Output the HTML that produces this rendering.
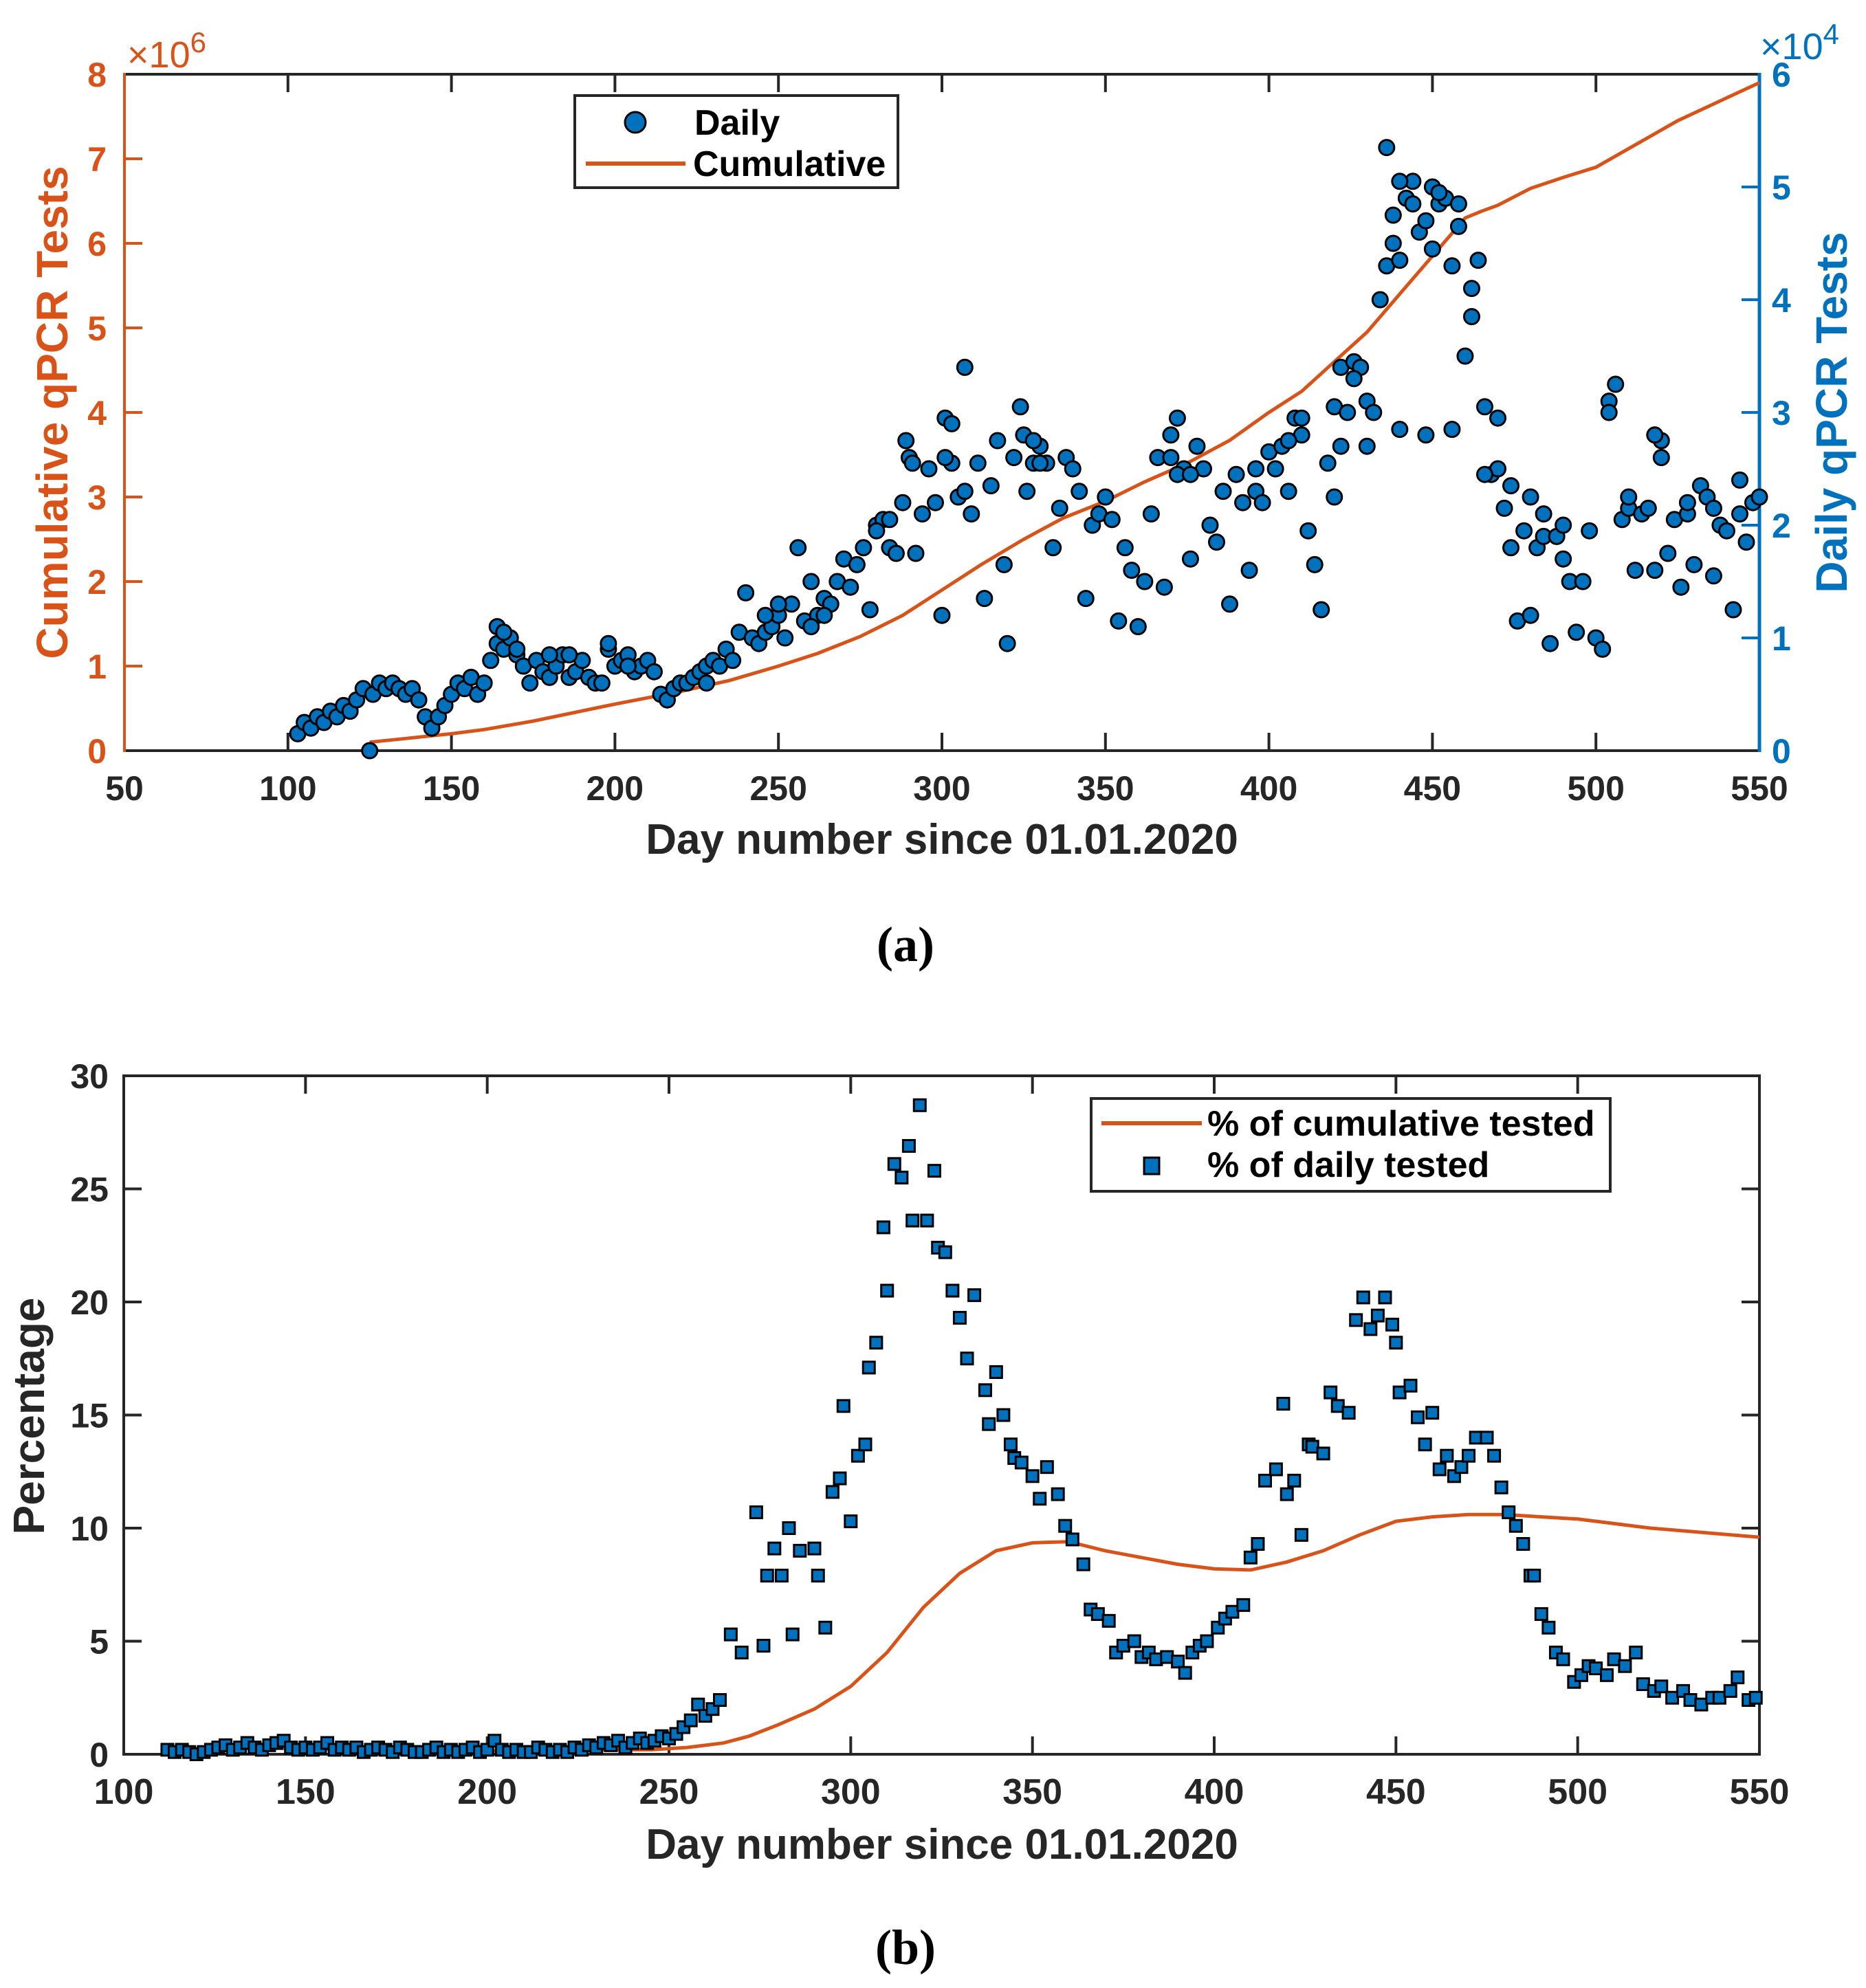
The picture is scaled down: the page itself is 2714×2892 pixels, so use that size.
<!DOCTYPE html>
<html><head><meta charset="utf-8">
<style>
html,body{margin:0;padding:0;background:#fff;}
svg{display:block;font-family:"Liberation Sans",Arial,sans-serif;font-weight:bold;}
</style></head>
<body>
<svg id="fig" width="2714" height="2892" viewBox="0 0 2714 2892" xmlns="http://www.w3.org/2000/svg">
<rect x="0" y="0" width="2714" height="2892" fill="#fff"/>
<g id="chartA"></g>
<g id="chartB"></g>
</svg>
<script>
// ---------- Chart (a) data ----------
const aXTicks = [50,100,150,200,250,300,350,400,450,500,550];
const aLeftTicks = [0,1,2,3,4,5,6,7,8];
const aRightTicks = [0,1,2,3,4,5,6];
const dailyDays = [103,105,107,109,111,113,115,117,119,121,123,125,126,128,130,132,134,136,138,140,142,144,146,148,150,152,154,156,158,160,162,164,166,168,170,172,174,176,178,180,182,184,186,188,190,192,194,196,198,200,202,204,206,208,210,212,214,216,218,220,222,224,226,228,230,232,234,236,238,240,242,244,246,248,250,252,254,256,258,260,262,264,266,268,270,272,274,276,278,280,282,284,286,288,290,292,294,296,298,300,301,303,305,307,309,311,313,315,317,319,320,322,324,326,328,330,332,334,336,338,340,342,344,346,348,350,352,354,356,358,360,362,364,366,368,370,372,374,376,378,380,382,384,386,388,390,392,394,396,398,400,402,404,406,408,410,412,414,416,418,420,422,424,426,428,430,432,434,436,438,440,442,444,446,448,450,452,454,456,458,460,462,464,466,468,470,472,474,476,478,480,482,484,486,488,490,492,494,496,498,500,502,504,506,508,510,512,514,516,518,520,522,524,526,528,530,532,534,536,538,540,542,544,546,548,550,
289,291,301,303,307,325,328,330,370,372,376,396,406,410,420,422,426,436,438,440,444,450,452,430,440,448,456,458,462,466,470,474,480,484,490,504,510,518,520,528,536,544,164,166,170,180,186,198,204,228,246,250,260,264,280,284];
const dailyVals = [0.15,0.25,0.2,0.3,0.25,0.35,0.3,0.4,0.35,0.45,0.55,0.0,0.5,0.6,0.55,0.6,0.55,0.5,0.55,0.45,0.3,0.2,0.3,0.4,0.5,0.6,0.55,0.65,0.5,0.6,0.8,0.95,0.9,1.0,0.85,0.75,0.6,0.8,0.7,0.65,0.75,0.85,0.65,0.7,0.8,0.65,0.6,0.6,0.9,0.75,0.8,0.85,0.7,0.75,0.8,0.7,0.5,0.45,0.55,0.6,0.6,0.65,0.7,0.75,0.8,0.75,0.9,0.8,1.05,1.4,1.0,0.95,1.05,1.1,1.2,1.0,1.3,1.8,1.15,1.5,1.2,1.35,1.3,1.5,1.7,1.45,1.65,1.8,1.25,2.0,2.05,1.8,1.75,2.2,2.6,1.75,2.1,2.5,2.2,1.2,2.95,2.55,2.25,3.4,2.1,2.55,1.35,2.35,2.75,1.65,0.95,2.6,3.05,2.3,2.55,2.7,2.55,1.8,2.15,2.6,2.5,2.3,1.35,2.0,2.1,2.25,2.05,1.15,1.8,1.6,1.1,1.5,2.1,2.6,1.45,2.8,2.95,2.5,1.7,2.7,2.5,2.0,1.85,2.3,1.3,2.45,2.2,1.6,2.3,2.2,2.65,2.5,2.7,2.3,2.95,2.8,1.95,1.65,1.25,2.55,3.05,3.4,3.0,3.45,3.4,3.1,3.0,4.0,4.3,4.5,4.35,4.9,5.05,4.6,4.7,4.45,4.85,4.9,4.3,4.85,3.5,4.1,4.35,3.05,2.45,2.5,2.15,1.8,1.15,1.95,1.2,1.8,1.9,0.95,1.9,1.7,1.5,1.05,1.5,1.95,1.0,0.9,3.1,3.25,2.05,2.15,1.6,2.1,2.15,1.6,2.75,1.75,2.05,1.45,2.1,1.65,2.35,2.25,1.55,2.0,1.95,1.25,2.1,1.85,2.2,2.25,
2.75,2.55,2.6,2.9,2.3,2.8,2.75,2.55,2.6,2.45,2.45,2.5,2.75,2.95,2.25,2.7,3.3,5.35,4.75,5.05,4.85,5.0,4.95,2.7,2.85,2.8,2.85,4.65,3.85,2.45,2.95,2.35,2.25,2.1,2.0,3.0,2.25,2.8,2.6,2.2,2.15,2.4,1.1,1.05,0.9,0.85,0.85,0.95,0.75,0.6,1.2,1.3,1.1,1.2,1.95,2.05];
const cumDays = [125,135,150,160,175,200,220,235,250,262,275,288,300,312,325,337,350,362,375,388,400,410,420,430,440,450,460,465,470,480,490,500,510,525,540,550];
const cumVals = [0.1,0.14,0.2,0.25,0.35,0.55,0.7,0.83,1.0,1.15,1.35,1.6,1.9,2.2,2.5,2.75,2.95,3.18,3.4,3.67,4.0,4.25,4.6,4.95,5.4,5.85,6.3,6.38,6.45,6.65,6.78,6.9,7.12,7.45,7.72,7.9];

// ---------- Chart (b) data ----------
const bXTicks = [100,150,200,250,300,350,400,450,500,550];
const bYTicks = [0,5,10,15,20,25,30];
const pctLineDays = [112,130,150,170,190,210,230,245,255,265,272,280,290,300,310,320,330,340,350,360,370,380,390,400,410,420,430,440,450,460,470,480,490,500,510,520,535,550];
const pctLineVals = [0.2,0.3,0.25,0.2,0.15,0.15,0.2,0.2,0.3,0.5,0.8,1.3,2.0,3.0,4.5,6.5,8.0,9.0,9.35,9.4,9.0,8.7,8.4,8.2,8.15,8.5,9.0,9.7,10.3,10.5,10.6,10.6,10.5,10.4,10.2,10.0,9.8,9.6];
const pctDailyDays = [112,114,116,118,120,122,124,126,128,130,
132,134,136,138,140,142,144,146,148,150,
152,154,156,158,160,162,164,166,168,170,
172,174,176,178,180,182,184,186,188,190,
192,194,196,198,200,202,204,206,208,210,
212,214,216,218,220,222,224,226,228,230,
232,234,236,238,240,242,244,246,248,250,
252,254,256,258,260,262,264,
267,270,274,276,277,279,281,283,284,286,290,291,293,295,297,298,300,302,304,305,307,309,310,312,314,316,317,319,321,323,324,326,328,330,332,334,337,338,340,342,344,345,347,350,352,354,357,359,361,364,366,368,371,373,375,378,380,382,384,387,390,392,394,396,398,401,403,405,408,410,412,414,417,419,420,422,424,426,427,430,432,434,437,439,441,443,445,447,449,450,451,454,456,458,460,462,464,466,468,470,472,475,477,479,481,483,485,487,488,490,492,494,496,499,501,503,505,508,510,513,516,518,521,523,526,529,531,534,537,539,542,544,547,549];
const pctDailyVals = [0.2,0.1,0.2,0.1,0.0,0.1,0.2,0.3,0.4,0.2,
0.3,0.5,0.3,0.2,0.4,0.5,0.6,0.3,0.2,0.3,
0.2,0.3,0.5,0.2,0.3,0.2,0.3,0.1,0.2,0.3,
0.2,0.1,0.3,0.2,0.1,0.1,0.2,0.3,0.1,0.2,
0.1,0.2,0.3,0.1,0.2,0.6,0.2,0.1,0.2,0.1,
0.1,0.3,0.2,0.1,0.2,0.1,0.3,0.2,0.4,0.3,
0.5,0.4,0.6,0.3,0.5,0.7,0.5,0.6,0.8,0.7,
0.9,1.2,1.5,2.2,1.7,2.0,2.4,
5.3,4.5,10.7,4.8,7.9,9.1,7.9,10.0,5.3,9.0,9.1,7.9,5.6,11.6,12.2,15.4,10.3,13.2,13.7,17.1,18.2,23.3,20.5,26.1,25.5,26.9,23.6,28.7,23.6,25.8,22.4,22.2,20.5,19.3,17.5,20.3,16.1,14.6,16.9,15.0,13.7,13.1,12.9,12.3,11.3,12.7,11.5,10.1,9.5,8.4,6.4,6.2,5.9,4.5,4.8,5.0,4.3,4.5,4.2,4.3,4.1,3.6,4.5,4.8,5.0,5.6,6.0,6.3,6.6,8.7,9.3,12.1,12.6,15.5,11.5,12.1,9.7,13.7,13.6,13.3,16.0,15.4,15.1,19.2,20.2,18.8,19.4,20.2,19.0,18.2,16.0,16.3,14.9,13.7,15.1,12.6,13.2,12.3,12.7,13.2,14.0,14.0,13.2,11.8,10.7,10.1,9.3,7.9,7.9,6.2,5.6,4.5,4.2,3.2,3.5,3.9,3.8,3.5,4.2,3.9,4.5,3.1,2.8,3.0,2.5,2.8,2.4,2.2,2.5,2.5,2.8,3.4,2.4,2.5];

const NS = 'http://www.w3.org/2000/svg';
const ORANGE = '#D95319', BLUE = '#0072BD', DARK = '#262626';
function mk(parent, tag, attrs, text) {
  const el = document.createElementNS(NS, tag);
  for (const k in attrs) el.setAttribute(k, attrs[k]);
  if (text !== undefined) el.textContent = text;
  parent.appendChild(el);
  return el;
}

// ===== Chart A =====
(function(){
  const g = document.getElementById('chartA');
  const L = 181, R = 2559, T = 108, B = 1092;
  const xs = d => L + (d - 50) / 500 * (R - L);
  const yl = v => B - v / 8 * (B - T);
  const yr = v => B - v / 6 * (B - T);
  const TK = 26;
  let e;
  e = mk(g, 'line', {x1:L, y1:T, x2:R, y2:T, stroke:DARK, 'stroke-width':4});
  
  
  e = mk(g, 'line', {x1:L, y1:B, x2:R, y2:B, stroke:DARK, 'stroke-width':4});
  
  
  e = mk(g, 'line', {x1:L, y1:T-2, x2:L, y2:B+2, stroke:ORANGE, 'stroke-width':4});
  
  
  e = mk(g, 'line', {x1:R, y1:T-2, x2:R, y2:B+2, stroke:BLUE, 'stroke-width':5});
  
  
  aXTicks.forEach(t => {
    const x = xs(t);
    if (t > 50 && t < 550) {
      e = mk(g, 'line', {x1:x, y1:B, x2:x, y2:B-TK, stroke:DARK, 'stroke-width':4});
      
      
      e = mk(g, 'line', {x1:x, y1:T, x2:x, y2:T+TK, stroke:DARK, 'stroke-width':4});
      
      
    }
    e = mk(g, 'text', {x:x, y:B+72, 'text-anchor':'middle', 'font-size':50, fill:DARK}, String(t));
    
    
  });
  aLeftTicks.forEach(t => {
    const y = yl(t);
    if (t > 0 && t < 8) {
      e = mk(g, 'line', {x1:L, y1:y, x2:L+TK, y2:y, stroke:ORANGE, 'stroke-width':4});
      
      
    }
    e = mk(g, 'text', {x:L-26, y:y+18, 'text-anchor':'end', 'font-size':50, fill:ORANGE}, String(t));
    
    
  });
  aRightTicks.forEach(t => {
    const y = yr(t);
    if (t > 0 && t < 6) {
      e = mk(g, 'line', {x1:R, y1:y, x2:R-TK, y2:y, stroke:BLUE, 'stroke-width':4});
      
      
    }
    e = mk(g, 'text', {x:R+18, y:y+18, 'text-anchor':'start', 'font-size':50, fill:BLUE}, String(t));
    
    
  });
  e = mk(g, 'text', {x:185, y:98, 'font-size':54, 'font-weight':'normal', fill:ORANGE});
  
  
  e.innerHTML = '×10<tspan dy="-22" font-size="42">6</tspan>';
  e = mk(g, 'text', {x:2560, y:86, 'font-size':54, 'font-weight':'normal', fill:BLUE});
  
  
  e.innerHTML = '×10<tspan dy="-22" font-size="42">4</tspan>';
  e = mk(g, 'text', {x:0, y:0, transform:'translate(98,600) rotate(-90)', 'text-anchor':'middle', 'font-size':64, fill:ORANGE}, 'Cumulative qPCR Tests');
  
  
  e = mk(g, 'text', {x:0, y:0, transform:'translate(2686,600) rotate(-90)', 'text-anchor':'middle', 'font-size':64, fill:BLUE}, 'Daily qPCR Tests');
  
  
  e = mk(g, 'text', {x:1370, y:1242, 'text-anchor':'middle', 'font-size':62, fill:DARK}, 'Day number since 01.01.2020');
  
  
  e = mk(g, 'text', {x:1317, y:1398, 'text-anchor':'middle', 'font-size':72, 'font-family':'Liberation Serif, serif', fill:'#000'}, '(a)');
  
  
  const pts = cumDays.map((d,i) => xs(d).toFixed(1) + ',' + yl(cumVals[i]).toFixed(1)).join(' ');
  e = mk(g, 'polyline', {points:pts, fill:'none', stroke:ORANGE, 'stroke-width':5});
  
  
  dailyDays.forEach((d,i) => {
    const c = mk(g, 'circle', {cx:xs(d), cy:yr(dailyVals[i]), r:11, fill:BLUE, stroke:'#000', 'stroke-width':3});
    
    
  });
  const lg = mk(g, 'g', {});
  
  
  mk(lg, 'rect', {x:836, y:139, width:470, height:134, fill:'#fff', stroke:DARK, 'stroke-width':4});
  e = mk(lg, 'circle', {cx:924, cy:178, r:15, fill:BLUE, stroke:'#000', 'stroke-width':3});
  
  
  e = mk(lg, 'text', {x:1010, y:196, 'font-size':52, fill:'#000'}, 'Daily');
  
  
  e = mk(lg, 'line', {x1:852, y1:238, x2:997, y2:238, stroke:ORANGE, 'stroke-width':6});
  
  
  e = mk(lg, 'text', {x:1008, y:256, 'font-size':52, fill:'#000'}, 'Cumulative');
  
  
})();

// ===== Chart B =====
(function(){
  const g = document.getElementById('chartB');
  const L = 180, R = 2559, T = 1565, B = 2552;
  const xs = d => L + (d - 100) / 450 * (R - L);
  const ys = v => B - v / 30 * (B - T);
  const TK = 26;
  let e;
  e = mk(g, 'rect', {x:L, y:T, width:R-L, height:B-T, fill:'none', stroke:DARK, 'stroke-width':4});
  
  
  bXTicks.forEach(t => {
    const x = xs(t);
    if (t > 100 && t < 550) {
      e = mk(g, 'line', {x1:x, y1:B, x2:x, y2:B-TK, stroke:DARK, 'stroke-width':4});
      
      
      e = mk(g, 'line', {x1:x, y1:T, x2:x, y2:T+TK, stroke:DARK, 'stroke-width':4});
      
      
    }
    e = mk(g, 'text', {x:x, y:B+72, 'text-anchor':'middle', 'font-size':52, fill:DARK}, String(t));
    
    
  });
  bYTicks.forEach(t => {
    const y = ys(t);
    if (t > 0 && t < 30) {
      e = mk(g, 'line', {x1:L, y1:y, x2:L+TK, y2:y, stroke:DARK, 'stroke-width':4});
      
      
      e = mk(g, 'line', {x1:R, y1:y, x2:R-TK, y2:y, stroke:DARK, 'stroke-width':4});
      
      
    }
    e = mk(g, 'text', {x:L-22, y:y+18, 'text-anchor':'end', 'font-size':50, fill:DARK}, String(t));
    
    
  });
  e = mk(g, 'text', {x:0, y:0, transform:'translate(64,2060) rotate(-90)', 'text-anchor':'middle', 'font-size':64, fill:DARK}, 'Percentage');
  
  
  e = mk(g, 'text', {x:1370, y:2704, 'text-anchor':'middle', 'font-size':62, fill:DARK}, 'Day number since 01.01.2020');
  
  
  e = mk(g, 'text', {x:1317, y:2857, 'text-anchor':'middle', 'font-size':72, 'font-family':'Liberation Serif, serif', fill:'#000'}, '(b)');
  
  
  const pts = pctLineDays.map((d,i) => xs(d).toFixed(1) + ',' + ys(pctLineVals[i]).toFixed(1)).join(' ');
  e = mk(g, 'polyline', {points:pts, fill:'none', stroke:ORANGE, 'stroke-width':5});
  
  
  pctDailyDays.forEach((d,i) => {
    const s = 17;
    const r = mk(g, 'rect', {x:xs(d)-s/2, y:ys(pctDailyVals[i])-s/2, width:s, height:s, fill:BLUE, stroke:'#000', 'stroke-width':3});
    
    
  });
  const lg = mk(g, 'g', {});
  
  
  mk(lg, 'rect', {x:1587, y:1598, width:755, height:135, fill:'#fff', stroke:DARK, 'stroke-width':4});
  e = mk(lg, 'line', {x1:1602, y1:1634, x2:1748, y2:1634, stroke:ORANGE, 'stroke-width':6});
  
  
  e = mk(lg, 'text', {x:1756, y:1652, 'font-size':52, fill:'#000'}, '% of cumulative tested');
  
  
  e = mk(lg, 'rect', {x:1664, y:1684, width:22, height:24, fill:BLUE, stroke:'#000', 'stroke-width':3});
  
  
  e = mk(lg, 'text', {x:1756, y:1712, 'font-size':52, fill:'#000'}, '% of daily tested');
  
  
})();
</script>
</body></html>
